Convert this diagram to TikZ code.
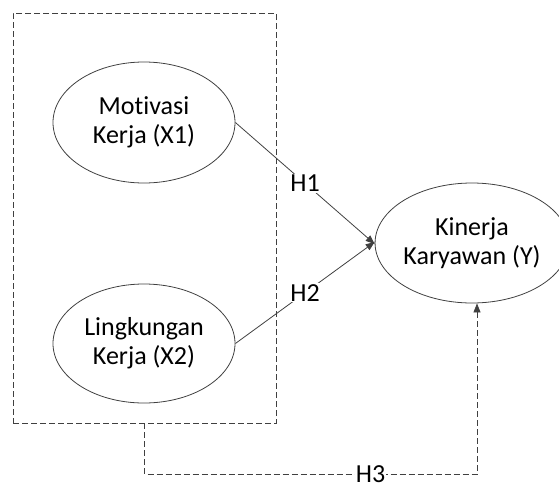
\documentclass[tikz,border=0pt]{standalone}
\usepackage{fontspec}
\setmainfont{Carlito}[Ligatures={NoCommon}]
\usetikzlibrary{shapes.geometric,arrows.meta}
\definecolor{ln}{HTML}{404040}
\tikzset{
  var/.style={ellipse, draw=ln, line width=0.8pt, align=center, inner sep=0pt,
    font=\fontsize{26}{29}\selectfont},
  rel/.style={draw=ln, line width=0.8pt, -{Triangle[length=9pt,width=7pt]}},
  grpbox/.style={draw=ln, line width=0.8pt, dash pattern=on 6pt off 3pt},
  lbl/.style={fill=white, inner sep=1pt, font=\fontsize{26}{29}\selectfont},
}
\begin{document}
\begin{tikzpicture}[x=1pt,y=-1pt]
\useasboundingbox (0,0) rectangle (559,482);
\node[grpbox, minimum width=263pt, minimum height=410pt, inner sep=0pt] (grp) at (144.5,218) {};
\node[var, minimum width=182pt, minimum height=121pt] (x1) at (144,122.5) {Motivasi\\Kerja (X1)};
\node[var, minimum width=182pt, minimum height=119pt] (x2) at (144,343.5) {Lingkungan\\Kerja (X2)};
\node[var, minimum width=172pt, minimum height=120pt] (y) at (472,243) {Kinerja\\Karyawan (Y)};
\draw[rel] (x1.east) -- node[lbl] {H1} ([yshift=-1pt]y.west);
\draw[rel] (x2.east) -- node[lbl] {H2} ([yshift=1pt]y.west);
\draw[rel, dash pattern=on 6pt off 3pt] (grp.south) -- ++(0,51) -| node[lbl, pos=0.34] {H3} ([xshift=5pt]y.south);
\end{tikzpicture}
\end{document}
